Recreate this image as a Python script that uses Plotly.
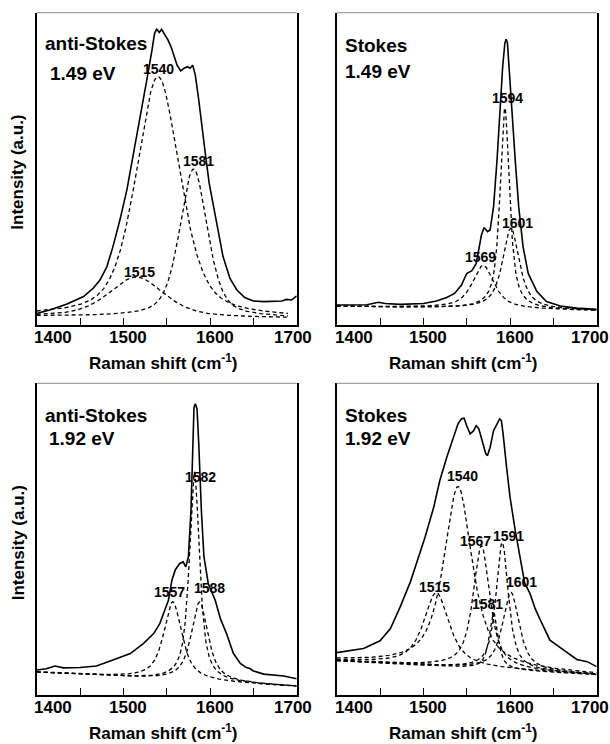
import numpy as np
import plotly.graph_objects as go

# ---------------------------------------------------------------------------
# Measured spectra (Raman shift in cm-1, intensity in arbitrary units 0-100)
# ---------------------------------------------------------------------------
as149_x = [1400, 1415, 1435, 1454, 1465, 1473, 1481, 1488, 1496, 1504, 1511, 1519,
           1527, 1533, 1536, 1538.5, 1541.5, 1544, 1547, 1551, 1555, 1558.5, 1562,
           1566, 1570, 1574, 1577, 1580, 1583, 1587, 1591, 1595, 1599, 1604, 1610,
           1615, 1623, 1631, 1640, 1650, 1662, 1673, 1683, 1688, 1694, 1700]
as149_y = [3.7, 4.8, 6.7, 9.1, 11.7, 14.4, 18.7, 25.1, 33.6, 43.2, 53.9, 65.6,
           78.4, 88.0, 93.4, 94.7, 93.7, 94.7, 93.4, 91.5, 89.1, 85.9, 83.2,
           81.4, 82.2, 82.7, 82.2, 83.2, 80.0, 72.0, 62.4, 53.9, 45.4, 37.9, 29.3,
           21.9, 14.9, 11.2, 8.8, 7.7, 7.5, 7.6, 7.7, 8.2, 8.0, 9.3]

s149_x = [1400, 1435, 1448, 1456, 1473, 1500, 1515, 1527, 1536, 1544, 1550, 1556,
          1561, 1567, 1570, 1574, 1577, 1581, 1585, 1588.5, 1591.5, 1594, 1595.5,
          1597, 1599, 1602, 1606, 1610, 1615, 1621, 1631, 1642, 1658, 1677, 1700]
s149_y = [6.4, 6.5, 7.3, 6.9, 6.6, 6.9, 7.7, 8.8, 10.1, 12.8, 16.5, 17.4,
          19.7, 28.8, 31.2, 29.9, 30.4, 37.9, 52.8, 69.9, 82.7, 90.2, 91.5,
          90.4, 81.6, 68.8, 52.8, 37.9, 25.1, 16.5, 10.7, 7.5, 6.1, 5.4, 5.0]

as192_x = [1400, 1411, 1421, 1431, 1450, 1469, 1488, 1508, 1523, 1535, 1542, 1548,
           1552, 1556, 1560, 1565, 1569, 1572, 1575, 1578, 1580, 1581.5, 1583,
           1585, 1587, 1590, 1593, 1598, 1606, 1612, 1619, 1627, 1635, 1642, 1646,
           1650, 1662, 1685, 1700]
as192_y = [8.0, 8.4, 9.3, 8.7, 8.8, 9.3, 11.2, 13.3, 16.5, 19.7, 22.9, 27.2,
           30.4, 36.8, 40.2, 42.2, 42.7, 41.1, 44.3, 59.2, 82.7, 92.3, 93.4,
           91.8, 80.6, 59.2, 44.3, 35.7, 30.4, 24.5, 19.7, 13.3, 10.1, 8.8, 8.5,
           7.7, 6.7, 6.1, 5.2]

s192_x = [1400, 1415, 1431, 1450, 1462, 1473, 1485, 1492, 1502, 1512, 1519, 1527,
          1535, 1540, 1544, 1547, 1550, 1554, 1558, 1561, 1564, 1568, 1572, 1574,
          1577, 1581, 1585, 1588, 1590, 1592, 1596, 1600, 1606, 1612, 1617, 1623,
          1629, 1635, 1646, 1662, 1677, 1689, 1700]
s192_y = [13.6, 14.2, 14.9, 17.4, 21.3, 28.1, 36.3, 42.2, 50.7, 60.3, 68.8, 76.3,
          83.2, 87.0, 88.6, 88.8, 86.4, 83.8, 84.8, 86.4, 85.4, 81.1, 77.4, 76.8,
          79.5, 84.8, 87.2, 88.6, 88.0, 83.8, 73.1, 63.5, 52.8, 43.2, 35.8, 32.6,
          27.7, 24.0, 17.6, 14.4, 11.4, 10.7, 9.1]

# ---------------------------------------------------------------------------
# Fitted bands: centre (cm-1), height above baseline, FWHM (cm-1)
# ---------------------------------------------------------------------------
as149_centres = [1515, 1540, 1581]
as149_heights = [12.8, 77.0, 47.5]
as149_fwhm = [75, 60, 38]

s149_centres = [1569, 1594, 1601]
s149_heights = [13.9, 64.4, 26.0]
s149_fwhm = [30, 13, 23]

as192_centres = [1557, 1582, 1588]
as192_heights = [25.0, 67.0, 25.4]
as192_fwhm = [25, 14, 23]

s192_centres = [1515, 1540, 1567, 1581, 1591, 1601]
s192_heights = [23.6, 58.0, 39.4, 18.0, 40.8, 25.0]
s192_fwhm = [35, 39, 23, 12, 17, 23]

# Linear background under the bands (value at 1400 and at 1700 cm-1)
as149_base = [2.8, 2.2]
s149_base = [6.0, 4.6]
as192_base = [7.3, 2.7]
s192_base = [11.0, 6.5]

# Lorentzian fraction of the pseudo-Voigt profile
as149_eta = 0.5
s149_eta = 0.8
as192_eta = 0.8
s192_eta = 0.8

# Peak-label placement: label height (data units) and horizontal nudge (px)
as149_lab_y = [17.0, 82.0, 52.5]
as149_lab_dx = [3, 0, 5]
s149_lab_y = [21.8, 72.8, 32.7]
s149_lab_dx = [-3, 3, 7]
as192_lab_y = [32.9, 70.0, 34.3]
as192_lab_dx = [-3, 6, 10]
s192_lab_y = [34.5, 70.3, 49.4, 29.2, 51.0, 36.1]
s192_lab_dx = [-2, 4, -6, -6, 6, 11]

panel_titles = ["anti-Stokes", "Stokes", "anti-Stokes", "Stokes"]
panel_energies = ["1.49 eV", "1.49 eV", "1.92 eV", "1.92 eV"]
tick_labels = [1400, 1500, 1600, 1700]
x_title = "Raman shift (cm<sup>-1</sup>)"
y_title = "Intensity (a.u.)"

FONT = "Liberation Sans, Arial, Helvetica, sans-serif"
W, H = 610, 744


def fx(p):
    return p / W


def fy(p):
    return 1 - p / H


def band(x, c, h, w, eta):
    g = w / 2.0
    u = ((x - c) / g) ** 2
    return h * (eta / (1 + u) + (1 - eta) * np.exp(-np.log(2) * u))


panels = [
    dict(sx=as149_x, sy=as149_y, c=as149_centres, h=as149_heights, w=as149_fwhm,
         base=as149_base, eta=as149_eta, ly=as149_lab_y, ldx=as149_lab_dx,
         fit_end=1690, left=36.7, top=12.7, bottom=325.0,
         title_xy=(42.7, 43.3), energy_xy=(47.7, 73.0), tick_shift=[16, 5, 5, -4]),
    dict(sx=s149_x, sy=s149_y, c=s149_centres, h=s149_heights, w=s149_fwhm,
         base=s149_base, eta=s149_eta, ly=s149_lab_y, ldx=s149_lab_dx,
         fit_end=1700, left=336.7, top=12.7, bottom=325.0,
         title_xy=(343.0, 45.0), energy_xy=(343.0, 71.5), tick_shift=[17, 5, 5, -7]),
    dict(sx=as192_x, sy=as192_y, c=as192_centres, h=as192_heights, w=as192_fwhm,
         base=as192_base, eta=as192_eta, ly=as192_lab_y, ldx=as192_lab_dx,
         fit_end=1700, left=36.7, top=383.3, bottom=695.0,
         title_xy=(43.0, 415.5), energy_xy=(47.0, 438.5), tick_shift=[16, 5, 5, -4]),
    dict(sx=s192_x, sy=s192_y, c=s192_centres, h=s192_heights, w=s192_fwhm,
         base=s192_base, eta=s192_eta, ly=s192_lab_y, ldx=s192_lab_dx,
         fit_end=1700, left=336.7, top=383.3, bottom=695.0,
         title_xy=(343.0, 415.5), energy_xy=(343.0, 438.5), tick_shift=[17, 5, 5, -7]),
]

PANEL_W = 260.0
fig = go.Figure()
annotations = []
shapes = []
layout_axes = {}

for i, p in enumerate(panels, start=1):
    xr = "x" if i == 1 else f"x{i}"
    yr = "y" if i == 1 else f"y{i}"
    xa = "xaxis" if i == 1 else f"xaxis{i}"
    ya = "yaxis" if i == 1 else f"yaxis{i}"

    # fitted components (dashed)
    xs = np.arange(1400, p["fit_end"] + 0.5, 0.5)
    b0, b1 = p["base"]
    baseline = b0 + (b1 - b0) * (xs - 1400) / 300.0
    for c, h, w in zip(p["c"], p["h"], p["w"]):
        fig.add_trace(go.Scatter(
            x=xs, y=baseline + band(xs, c, h, w, p["eta"]),
            mode="lines", line=dict(color="black", width=1.3, dash="4px,3px"),
            xaxis=xr, yaxis=yr, showlegend=False, hoverinfo="skip"))

    # measured spectrum (solid)
    fig.add_trace(go.Scatter(
        x=p["sx"], y=p["sy"], mode="lines",
        line=dict(color="black", width=1.6),
        xaxis=xr, yaxis=yr, showlegend=False))

    x_dom = [fx(p["left"]), fx(p["left"] + PANEL_W)]
    y_dom = [fy(p["bottom"]), fy(p["top"])]
    layout_axes[xa] = dict(
        domain=x_dom, range=[1400, 1700], anchor=yr,
        showline=True, linecolor="black", linewidth=1.8, mirror=False,
        ticks="inside", ticklen=7, tickwidth=1, tickcolor="black",
        tickvals=list(range(1400, 1701, 50)), showticklabels=False,
        showgrid=False, zeroline=False)
    layout_axes[ya] = dict(
        domain=y_dom, range=[0, 100], anchor=xr,
        showline=True, linecolor="black", linewidth=1.6, mirror=True,
        ticks="", showticklabels=False, showgrid=False, zeroline=False)

    # lighter top edge of the frame
    shapes.append(dict(type="line", xref="paper", yref="paper",
                       x0=fx(p["left"]), x1=fx(p["left"] + PANEL_W),
                       y0=fy(p["top"]), y1=fy(p["top"]),
                       line=dict(color="#8a8a8a", width=1)))

    # peak labels
    for c, ly, dx in zip(p["c"], p["ly"], p["ldx"]):
        annotations.append(dict(
            x=c, y=ly, xref=xr, yref=yr, text=str(c), showarrow=False,
            xanchor="center", yanchor="middle", xshift=dx,
            font=dict(family=FONT, size=14, color="black", weight="bold")))

    # panel text
    tx, ty = p["title_xy"]
    annotations.append(dict(
        x=fx(tx), y=fy(ty), xref="paper", yref="paper",
        text=panel_titles[i - 1], showarrow=False, xanchor="left", yanchor="middle",
        font=dict(family=FONT, size=19, color="black", weight="bold")))
    ex, ey = p["energy_xy"]
    annotations.append(dict(
        x=fx(ex), y=fy(ey), xref="paper", yref="paper",
        text=panel_energies[i - 1], showarrow=False, xanchor="left", yanchor="middle",
        font=dict(family=FONT, size=19, color="black", weight="bold")))

    # x tick labels
    label_dy = 12.5
    for t, s in zip(tick_labels, p["tick_shift"]):
        annotations.append(dict(
            x=t, y=fy(p["bottom"] + label_dy), xref=xr, yref="paper",
            text=str(t), showarrow=False, xanchor="center", yanchor="middle",
            xshift=s,
            font=dict(family=FONT, size=17, color="black", weight="bold")))

    # x axis title
    annotations.append(dict(
        x=fx(p["left"] + 127), y=fy(p["bottom"] + 37), xref="paper", yref="paper",
        text=x_title, showarrow=False, xanchor="center", yanchor="middle",
        font=dict(family=FONT, size=17, color="black", weight="bold")))

    # y axis title on the left-hand panels
    if p["left"] < 100:
        annotations.append(dict(
            x=fx(18), y=fy(p["top"] + 160), xref="paper", yref="paper",
            text=y_title, showarrow=False, textangle=-90,
            xanchor="center", yanchor="middle",
            font=dict(family=FONT, size=17, color="black", weight="bold")))

fig.update_layout(
    width=W, height=H, margin=dict(l=0, r=0, t=0, b=0),
    paper_bgcolor="white", plot_bgcolor="white",
    showlegend=False, annotations=annotations, shapes=shapes,
    **layout_axes)

fig.write_html("out.html")
